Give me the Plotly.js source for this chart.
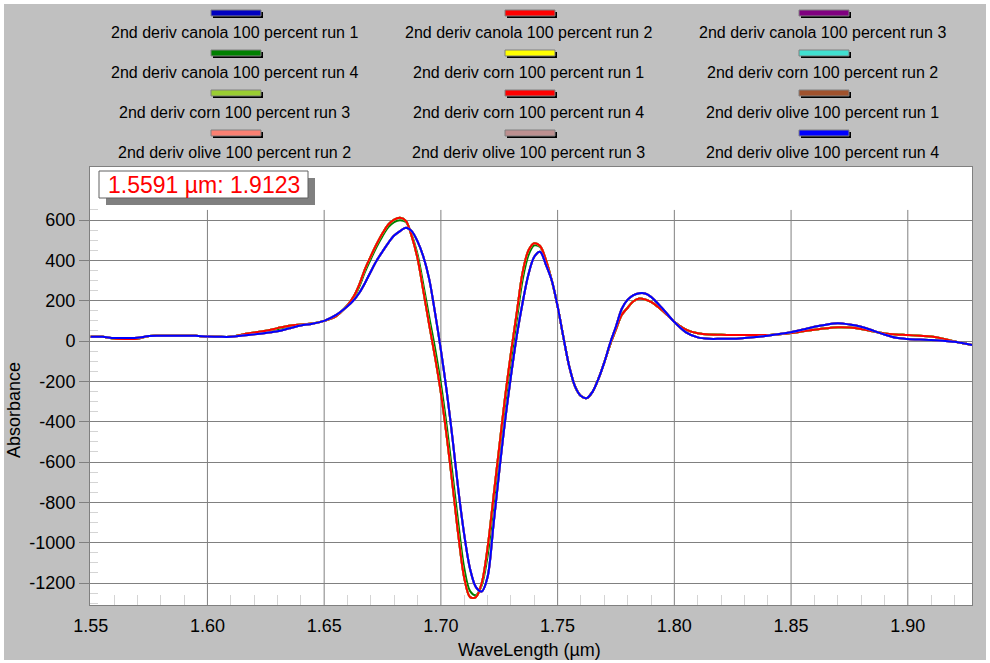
<!DOCTYPE html>
<html><head><meta charset="utf-8">
<script src="https://cdn.plot.ly/plotly-3.0.1.min.js"></script>
<style>html,body{margin:0;padding:0;background:#fff;}#chart{width:990px;height:663px;}</style>
</head><body><div id="chart"></div>
<script>
// ---- DATA ----
const wavelength = [1.550,1.555,1.560,1.565,1.570,1.575,1.580,1.585,1.590,1.595,1.600,1.605,1.610,1.615,1.620,1.625,1.630,1.635,1.640,1.645,1.650,1.655,1.660,1.6625,1.665,1.6675,1.670,1.6725,1.675,1.6775,1.680,1.6825,1.685,1.6875,1.690,1.6925,1.695,1.6975,1.700,1.7025,1.705,1.7075,1.710,1.7125,1.715,1.7175,1.720,1.7225,1.725,1.7275,1.730,1.7325,1.735,1.7375,1.740,1.7425,1.745,1.7475,1.750,1.7525,1.755,1.7575,1.760,1.7625,1.765,1.7675,1.770,1.7725,1.775,1.7775,1.780,1.7825,1.785,1.7875,1.790,1.795,1.800,1.805,1.810,1.815,1.820,1.825,1.830,1.835,1.840,1.845,1.850,1.855,1.860,1.865,1.870,1.875,1.880,1.885,1.890,1.895,1.900,1.905,1.910,1.915,1.920,1.925,1.9275];

const canolaCornAbs = [21,21,12,10,11,25,26,26,26,26,22,21,21,33,42,51,64,76,82,87,100,122,178,218,279,357,421,481,534,578,602,611,596,520,410,248,80,-80,-257,-473,-714,-965,-1174,-1270,-1270,-1200,-1026,-776,-526,-278,-60,140,340,449,485,471,402,300,172,18,-127,-226,-273,-283,-251,-187,-106,-18,58,130,165,197,211,206,194,150,96,57,39,32,31,30,30,30,30,34,40,48,56,63,68,67,60,48,38,33,30,26,22,12,-2,-14,-20];

const canola4Abs = [21,21,12,10,11,25,26,26,26,26,22,21,21,31,39,47,58,72,80,87,100,123,178,212,268,343,407,467,520,565,590,599,590,527,430,280,120,-35,-210,-420,-660,-905,-1125,-1240,-1260,-1212,-1068,-818,-568,-318,-98,102,302,425,474,466,398,300,172,18,-127,-226,-273,-283,-251,-187,-106,-18,58,130,165,197,211,206,194,150,96,57,39,32,31,30,30,30,30,34,40,48,56,63,68,67,60,48,38,33,30,26,22,12,-2,-14,-20];

const oliveAbs = [21,21,15,15,16,25,26,26,26,26,22,21,21,27,33,40,48,63,77,86,100,128,172,200,238,288,345,399,444,487,523,545,562,545,494,418,307,140,-45,-250,-485,-740,-960,-1130,-1220,-1242,-1170,-915,-646,-395,-175,25,190,330,418,443,378,300,172,18,-127,-226,-273,-283,-251,-187,-106,-10,72,160,205,228,237,236,219,160,94,43,18,11,11,11,15,20,26,35,44,57,71,81,88,82,71,52,32,16,10,7,5,1,-4,-14,-20];

const seriesNames = [
  "2nd deriv canola 100 percent run 1","2nd deriv canola 100 percent run 2","2nd deriv canola 100 percent run 3",
  "2nd deriv canola 100 percent run 4","2nd deriv corn 100 percent run 1","2nd deriv corn 100 percent run 2",
  "2nd deriv corn 100 percent run 3","2nd deriv corn 100 percent run 4","2nd deriv olive 100 percent run 1",
  "2nd deriv olive 100 percent run 2","2nd deriv olive 100 percent run 3","2nd deriv olive 100 percent run 4"];
const seriesColors = ["#0000C0","#FF0000","#800080","#008000","#FFFF00","#40E0D0","#9ACD32","#FF0000","#A0522D","#FA8072","#BC8F8F","#0000FF"];
const seriesValues = [oliveAbs,canolaCornAbs,canolaCornAbs,canola4Abs,canolaCornAbs,canolaCornAbs,canolaCornAbs,canolaCornAbs,oliveAbs,oliveAbs,oliveAbs,oliveAbs];

const xTicks = [1.55,1.60,1.65,1.70,1.75,1.80,1.85,1.90];
const xTickLabels = ["1.55","1.60","1.65","1.70","1.75","1.80","1.85","1.90"];
const yTicks = [-1200,-1000,-800,-600,-400,-200,0,200,400,600];
const yTickLabels = ["-1200","-1000","-800","-600","-400","-200","0","200","400","600"];
const cursorText = "1.5591 µm: 1.9123";

// ---- LAYOUT HELPERS ----
const L=90,R=972,T=167,B=605;
const px = v => (v-L)/(R-L);
const py = v => (B-v)/(B-T);
const FONT = "Arial, 'Liberation Sans', sans-serif";

const traces = seriesNames.map((n,i)=>({
  type:'scatter', mode:'lines', name:n, x:wavelength, y:seriesValues[i],
  line:{color:seriesColors[i], width:2, shape:'spline', smoothing:0.9},
  showlegend:false, hoverinfo:'skip'
}));

const shapes = [];
const annotations = [];
// white outer edges
[[0,0,4,663],[0,0,990,4],[986,0,990,663],[0,660,990,663]].forEach(r=>{
  shapes.push({type:'rect',xref:'paper',yref:'paper',x0:px(r[0]),x1:px(r[2]),y0:py(r[3]),y1:py(r[1]),fillcolor:'#ffffff',line:{width:0},layer:'below'});
});
// vertical grid lines (stop at 650)
xTicks.slice(1).forEach(t=>{
  shapes.push({type:'line',xref:'x',yref:'y',x0:t,x1:t,y0:-1309,y1:650,line:{color:'#808080',width:1},layer:'below'});
});
// legend
const colX=[234,528,822], swY=[13,53,93,133], txY=[33,73,113,153];
seriesNames.forEach((n,i)=>{
  const c=i%3, r=Math.floor(i/3), cx=colX[c]+2;
  shapes.push({type:'rect',xref:'paper',yref:'paper',x0:px(cx-23),x1:px(cx+27),y0:py(swY[r]+5),y1:py(swY[r]-1),fillcolor:'#000000',line:{width:0}});
  shapes.push({type:'rect',xref:'paper',yref:'paper',x0:px(cx-25),x1:px(cx+25),y0:py(swY[r]+3),y1:py(swY[r]-3),fillcolor:seriesColors[i],line:{color:'#808080',width:1}});
  annotations.push({xref:'paper',yref:'paper',x:px(colX[c]),y:py(txY[r]),text:n,showarrow:false,xanchor:'center',yanchor:'middle',font:{family:FONT,size:16,color:'#000'}});
});
// cursor readout box
shapes.push({type:'rect',xref:'paper',yref:'paper',x0:px(106),x1:px(315),y0:py(205),y1:py(178),fillcolor:'#808080',line:{width:0}});
shapes.push({type:'rect',xref:'paper',yref:'paper',x0:px(99),x1:px(308),y0:py(198),y1:py(171),fillcolor:'#ffffff',line:{color:'#606060',width:1}});
annotations.push({xref:'paper',yref:'paper',x:px(204),y:py(185),text:cursorText,showarrow:false,xanchor:'center',yanchor:'middle',font:{family:FONT,size:23,color:'#FF0000'}});
// axis titles
annotations.push({xref:'paper',yref:'paper',x:px(529),y:py(650),text:'WaveLength (µm)',showarrow:false,xanchor:'center',yanchor:'middle',font:{family:FONT,size:18,color:'#000'}});
annotations.push({xref:'paper',yref:'paper',x:px(14),y:py(410),text:'Absorbance',textangle:-90,showarrow:false,xanchor:'center',yanchor:'middle',font:{family:FONT,size:18,color:'#000'}});

const xMinor=[]; for(let k=156;k<=192;k++){ if(k%5!==0) xMinor.push(k/100); }
const yMinor=[]; for(let k=-1300;k<=650;k+=50){ if(k%200!==0) yMinor.push(k); }

const layout = {
  width:990, height:663,
  margin:{l:L,r:990-R,t:T,b:663-B,pad:0},
  paper_bgcolor:'#C0C0C0', plot_bgcolor:'#FFFFFF',
  font:{family:FONT,size:18,color:'#000'},
  xaxis:{range:[1.5497,1.9275], tickvals:xTicks, ticktext:xTickLabels, showgrid:false, zeroline:false,
    showline:true, mirror:true, linecolor:'#808080', linewidth:1, ticks:'outside', ticklen:4, tickcolor:'rgba(0,0,0,0)',
    tickfont:{family:FONT,size:18,color:'#000'},
    minor:{tickvals:xMinor, ticks:'inside', ticklen:10, tickcolor:'#D4D4D4', tickwidth:1, showgrid:false}},
  yaxis:{range:[-1309,863], tickvals:yTicks, ticktext:yTickLabels, showgrid:true, gridcolor:'#808080', gridwidth:1, zeroline:false,
    showline:true, mirror:true, linecolor:'#808080', linewidth:1, ticks:'outside', ticklen:10, tickcolor:'#808080',
    tickfont:{family:FONT,size:18,color:'#000'},
    minor:{tickvals:yMinor, ticks:'inside', ticklen:8, tickcolor:'#D4D4D4', tickwidth:1, showgrid:false}},
  shapes:shapes, annotations:annotations, showlegend:false
};
Plotly.newPlot('chart', traces, layout, {staticPlot:true, displayModeBar:false});
</script></body></html>
